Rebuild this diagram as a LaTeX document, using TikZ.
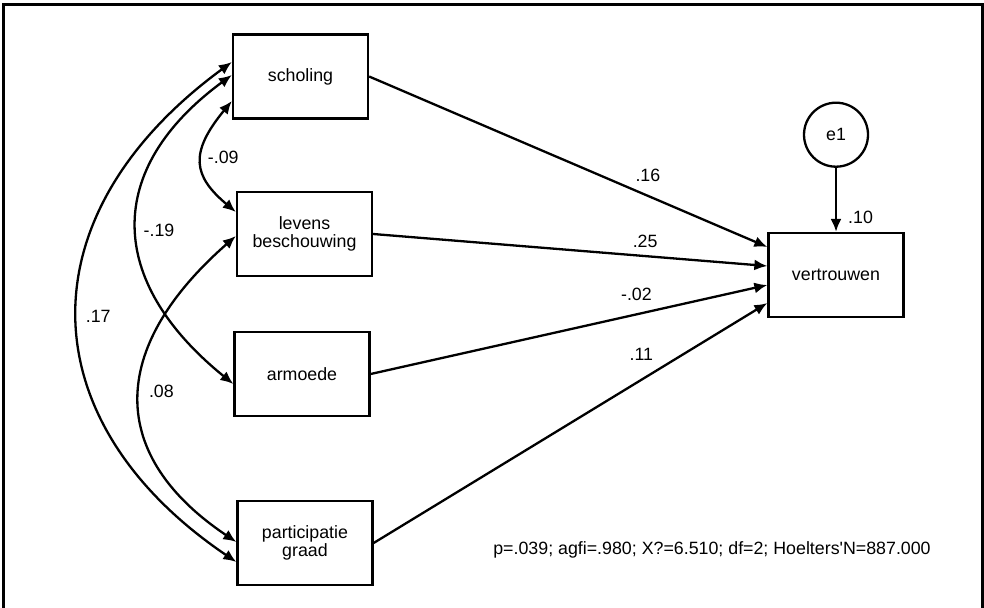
\documentclass[tikz,border=0pt]{standalone}
\usepackage{fontspec}
\setmainfont{Liberation Sans}
\usetikzlibrary{arrows.meta,positioning}
\newcommand{\amosfont}{\fontsize{17.8}{18.5}\selectfont}

\begin{document}
\begin{tikzpicture}[x=1pt,y=-1pt,>={Latex[length=13pt,width=11pt]},line width=2.3pt,
 var/.style={rectangle,draw,minimum width=135pt,minimum height=84pt,align=center,font=\amosfont},
 err/.style={circle,draw,minimum size=64pt,font=\amosfont},
 wt/.style={inner sep=1pt,font=\amosfont}]
 \useasboundingbox (0,0) rectangle (984,607);
 \draw[line width=3pt] (3,5) rectangle (982.5,612);

 % observed variables
 \node[var] (scholing) at (300.5,76.5) {scholing};
 \node[var] (levens) at (304.5,234) {levens\\beschouwing};
 \node[var] (armoede) at (302,374) {armoede};
 \node[var] (participatie) at (305,543) {participatie\\graad};
 \node[var] (vertrouwen) at (836,275) {vertrouwen};
 \node[err] (e1) [above=64pt of vertrouwen] {e1};

 % regression weights
 \draw[->] (scholing.east) -- ([yshift=28pt]vertrouwen.west) node[wt,pos=0.7,above=11.6pt] {.16};
 \draw[->] (levens.east) -- ([yshift=9pt]vertrouwen.west) node[wt,pos=0.69,above=6.6pt] {.25};
 \draw[->] (armoede.east) -- ([yshift=-10pt]vertrouwen.west) node[wt,pos=0.67,above=11.7pt] {-.02};
 \draw[->] (participatie.east) -- ([yshift=-28pt]vertrouwen.west) node[wt,pos=0.68,above=17.4pt] {.11};
 \draw[->] (e1.south) -- (vertrouwen.north) node[wt,pos=0.77,right=10pt] {.10};

 % correlations
 \draw[<->] ([yshift=-24.5pt]scholing.west) .. controls (189,153) and (193,176) .. ([yshift=22pt]levens.west) node[wt,pos=0.45,right=4pt] {-.09};
 \draw[<->] ([yshift=1.5pt]scholing.west) .. controls (104,169) and (106,281) .. ([yshift=-10pt]armoede.west) node[wt,pos=0.515,right=4.5pt] {-.19};
 \draw[<->] ([yshift=14.5pt]scholing.west) .. controls (23,215) and (28,421) .. ([yshift=-19pt]participatie.west) node[wt,pos=0.5,right=6pt] {.17};
 \draw[<->] ([yshift=-2pt]levens.west) .. controls (107,349) and (108,456) .. ([yshift=1pt]participatie.west) node[wt,pos=0.475,right=7pt] {.08};

 % fit statistics
 \node[wt] (fit) at (712,550) {p=.039; agfi=.980; X?=6.510; df=2; Hoelters\textquotesingle N=887.000};
\end{tikzpicture}
\end{document}
